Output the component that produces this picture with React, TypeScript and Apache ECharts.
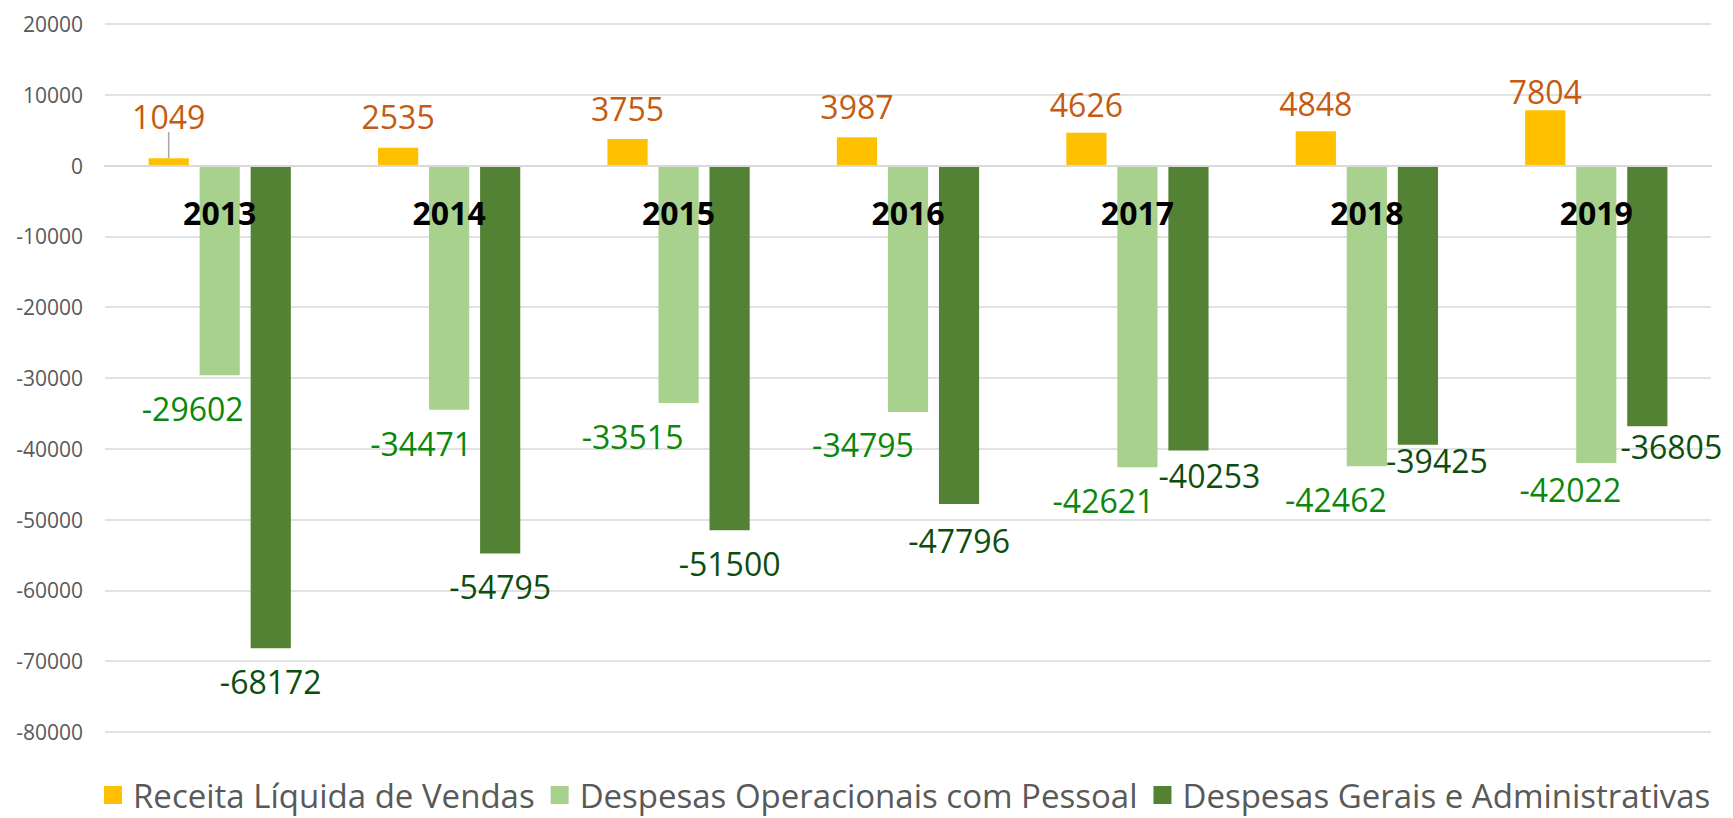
import React, { useEffect, useRef } from "react";
import * as echarts from "echarts";

const categories = ["2013", "2014", "2015", "2016", "2017", "2018", "2019"];
const receita = [1049, 2535, 3755, 3987, 4626, 4848, 7804];
const despPessoal = [-29602, -34471, -33515, -34795, -42621, -42462, -42022];
const despGerais = [-68172, -54795, -51500, -47796, -40253, -39425, -36805];
const seriesNames = [
  "Receita Líquida de Vendas",
  "Despesas Operacionais com Pessoal",
  "Despesas Gerais e Administrativas",
];
const yTicks = { min: -80000, max: 20000, interval: 10000 };

// label nudges (style only, as in the reference where labels were moved by hand)
const receitaLabelDy = [-11, 0, 0, 0, 3, 3, 12];
const pessoalLabelDx = [-27, -28, -46, -45, -34, -31, -26];
const pessoalLabelDy = [0, 1, 1, 0, 0, 0, -7];
const geraisLabelDx = [0, 0, 0, 0, 21, 19, 24];
const geraisLabelDy = [0, 0, 0, 4, -8, -17, -13];

const FONT = "'Open Sans', sans-serif";
const GRID = { left: 105, right: 22, top: 24, bottom: 86 };
const HEIGHT = 818;

export default function App() {
  const ref = useRef<HTMLDivElement>(null);
  useEffect(() => {
    document.body.style.margin = "0";
    const chart = echarts.init(ref.current!, null, { renderer: "svg" });
    const labelBase = { show: true, fontSize: 32, fontFamily: FONT };
    const gridH = HEIGHT - GRID.top - GRID.bottom;
    const zeroOffset = -gridH * (0 - yTicks.min) / (yTicks.max - yTicks.min);
    chart.setOption({
      animation: false,
      backgroundColor: "#ffffff",
      textStyle: { fontFamily: FONT },
      grid: { ...GRID, containLabel: false },
      legend: {
        top: 772,
        left: 99,
        icon: "rect",
        itemWidth: 18,
        itemHeight: 18,
        itemGap: 16,
        textStyle: {
          fontSize: 33,
          lineHeight: 36,
          color: "#595959",
          fontFamily: FONT,
          padding: [0, 0, 0, 6],
        },
        data: seriesNames,
      },
      xAxis: {
        type: "category",
        data: categories,
        position: "bottom",
        offset: zeroOffset,
        z: 10,
        axisLine: { onZero: false, lineStyle: { color: "#D9D9D9", width: 2 } },
        axisTick: { show: false },
        axisLabel: {
          margin: 31,
          fontSize: 32,
          fontWeight: "bold",
          color: "#000000",
          fontFamily: FONT,
        },
      },
      yAxis: {
        type: "value",
        min: yTicks.min,
        max: yTicks.max,
        interval: yTicks.interval,
        axisLine: { show: false },
        axisTick: { show: false },
        splitLine: { lineStyle: { color: "#D9D9D9", width: 1.5 } },
        axisLabel: {
          margin: 22,
          fontSize: 21,
          color: "#595959",
          fontFamily: FONT,
          formatter: (v: number) => String(v),
        },
      },
      series: [
        {
          name: seriesNames[0],
          type: "bar",
          barCategoryGap: "38%",
          barGap: "27%",
          itemStyle: { color: "#FFC000" },
          data: receita.map((v, i) =>
            i === 0
              ? { value: v, labelLine: { show: true, lineStyle: { color: "#A6A6A6", width: 1.5 } } }
              : v
          ),
          label: { ...labelBase, position: "top", distance: 15, color: "#C55A11" },
          labelLayout: (p: any) => ({ dy: receitaLabelDy[p.dataIndex] }),
        },
        {
          name: seriesNames[1],
          type: "bar",
          barCategoryGap: "38%",
          barGap: "27%",
          itemStyle: { color: "#A9D18E" },
          data: despPessoal,
          label: { ...labelBase, position: "bottom", distance: 17, color: "#0B870B" },
          labelLayout: (p: any) => ({
            dx: pessoalLabelDx[p.dataIndex],
            dy: pessoalLabelDy[p.dataIndex],
          }),
        },
        {
          name: seriesNames[2],
          type: "bar",
          barCategoryGap: "38%",
          barGap: "27%",
          itemStyle: { color: "#548235" },
          data: despGerais,
          label: { ...labelBase, position: "bottom", distance: 17, color: "#0D4D0D" },
          labelLayout: (p: any) => ({
            dx: geraisLabelDx[p.dataIndex],
            dy: geraisLabelDy[p.dataIndex],
          }),
        },
      ],
    });
    return () => chart.dispose();
  }, []);
  return (
    <div
      ref={ref}
      style={{ position: "absolute", left: 0, top: 0, width: 1733, height: HEIGHT }}
    />
  );
}
